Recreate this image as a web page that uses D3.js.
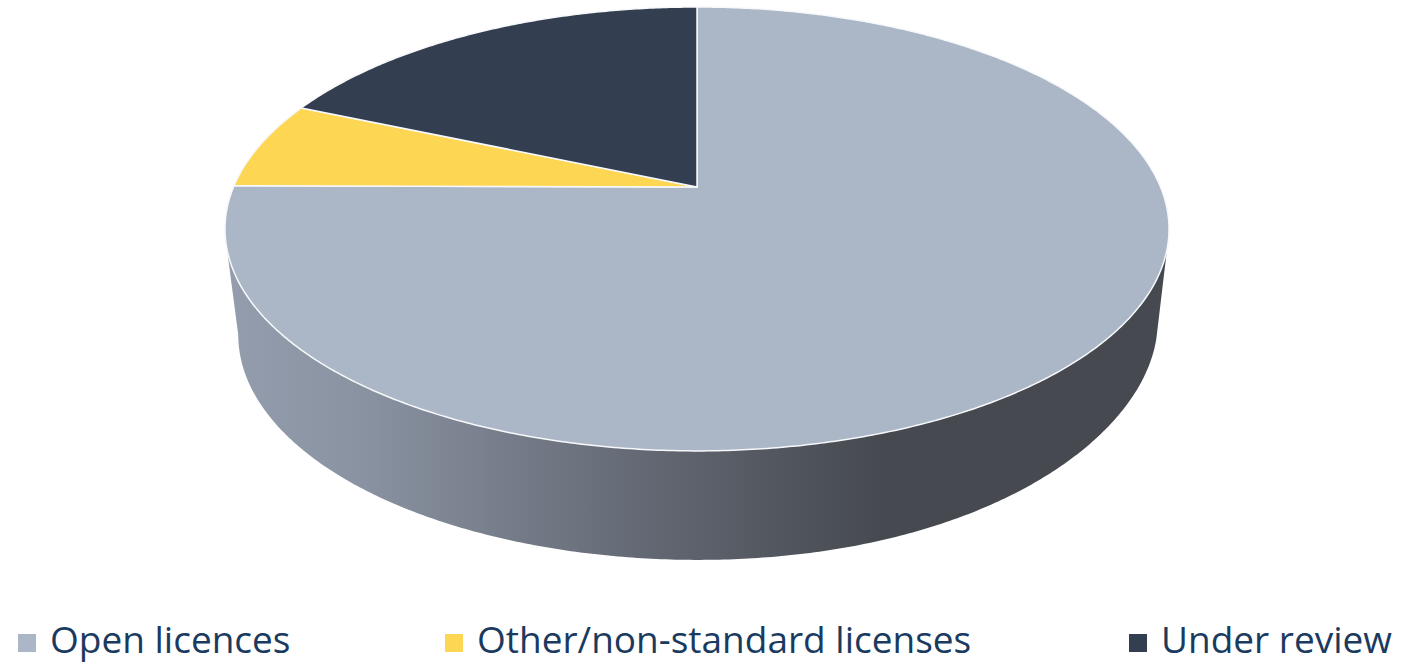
<!DOCTYPE html>
<html>
<head>
<meta charset="utf-8">
<script src="https://cdn.jsdelivr.net/npm/d3@7/dist/d3.min.js"></script>
<style>
  html, body { margin: 0; padding: 0; background: #fff; }
  svg { display: block; }
  .legend text { font-family: "Open Sans", sans-serif; font-size: 37px; fill: #1a3a60; }
</style>
</head>
<body>
<svg id="chart" width="1407" height="664"></svg>
<script>
var categories = ['Open licences', 'Other/non-standard licenses', 'Under review'];
var shares = [75.1, 6.4, 18.5];
var colors = ['#abb7c7', '#fdd653', '#333f50'];

var svg = d3.select('#chart');

// the top of the pie is a circle seen in perspective, so the centre
// of the slices is not the centre of the ellipse
var cx = 697, apexY = 187, radius = 463.5;
var tilt = -0.189, yGain = 178.68;

var project = function (angle) {
  var u = Math.sin(angle), v = -Math.cos(angle);
  var w = 1 + tilt * v;
  return [cx + radius * u / w, (yGain * v + apexY) / w];
};

// floor of the pie: same shape, a bit narrower and further down.
// the right side of the floor sits a little higher in the picture
var projectFloor = function (angle) {
  var p = project(angle);
  var dx = (p[0] - cx) * 0.974;
  var lift = 14 * Math.pow(Math.max(0, dx / 460), 3);
  return [cx + 1 + dx, 335 + (p[1] - 229) * 1.0135 - lift];
};

var line = d3.line();
var rad = function (deg) { return deg * Math.PI / 180; };

var arcPoints = function (from, to, fn) {
  var n = Math.max(2, Math.ceil(Math.abs(to - from) / rad(0.5)));
  return d3.range(n + 1).map(function (i) {
    return fn(from + (to - from) * i / n);
  });
};

var grad = svg.append('defs').append('linearGradient')
  .attr('id', 'side')
  .attr('gradientUnits', 'userSpaceOnUse')
  .attr('x1', 228).attr('x2', 880)
  .attr('y1', 0).attr('y2', 0);
grad.append('stop').attr('offset', 0).attr('stop-color', '#949dad');
grad.append('stop').attr('offset', 0.2).attr('stop-color', '#8a93a2');
grad.append('stop').attr('offset', 0.72).attr('stop-color', '#5c616b');
grad.append('stop').attr('offset', 1).attr('stop-color', '#464a50');

var sidePoints = arcPoints(rad(106), rad(254), project)
  .concat(arcPoints(rad(259.1), rad(105), projectFloor));

svg.append('path')
  .attr('d', line(sidePoints) + 'Z')
  .attr('fill', 'url(#side)');

var slices = d3.pie().sort(null).value(function (d) { return d; })(shares);

svg.append('g').selectAll('path')
  .data(slices)
  .join('path')
  .attr('d', function (d) {
    return line([[cx, apexY]].concat(arcPoints(d.startAngle, d.endAngle, project))) + 'Z';
  })
  .attr('fill', function (d, i) { return colors[i]; })
  .attr('stroke', '#f7f8fa')
  .attr('stroke-width', 1.5)
  .attr('stroke-linejoin', 'round');

var legendX = [18, 445, 1129];

var legend = svg.append('g').attr('class', 'legend')
  .selectAll('g')
  .data(categories)
  .join('g')
  .attr('transform', function (d, i) { return 'translate(' + legendX[i] + ',0)'; });

legend.append('rect')
  .attr('y', 634).attr('width', 18).attr('height', 18)
  .attr('fill', function (d, i) { return colors[i]; });

legend.append('text')
  .attr('x', 32).attr('y', 653)
  .text(function (d) { return d; });
</script>
</body>
</html>
